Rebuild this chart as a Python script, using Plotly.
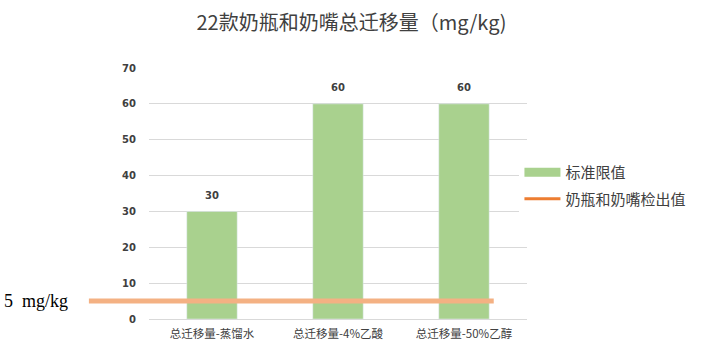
import plotly.graph_objects as go

categories = ["总迁移量-蒸馏水", "总迁移量-4%乙酸", "总迁移量-50%乙醇"]
limit_values = [30, 60, 60]
detected_value = 5
series_names = ["标准限值", "奶瓶和奶嘴检出值"]
y_ticks = [0, 10, 20, 30, 40, 50, 60, 70]

green = "#A9D18E"
orange = "#ED7D31"
orange_light = "#F4B183"

fig = go.Figure()
fig.add_trace(go.Bar(x=categories, y=limit_values, marker_color=green, showlegend=False))
for c, v in zip(categories, limit_values):
    fig.add_annotation(x=c, y=v, text=str(v), showarrow=False, yshift=16,
                       yanchor="middle",
                       font=dict(family="DejaVu Sans", size=10, color="#404040", weight="bold"))
# legend-only entries
fig.add_trace(go.Scatter(x=[None], y=[None], mode="lines", name=series_names[0],
                         line=dict(color=green, width=9), legendgroup="a"))
fig.add_trace(go.Scatter(x=[None], y=[None], mode="lines", name=series_names[1],
                         line=dict(color=orange, width=3), legendgroup="b"))

fig.add_shape(type="line", xref="paper", yref="y", x0=-0.159, x1=0.912,
              y0=detected_value, y1=detected_value,
              line=dict(color=orange_light, width=5), layer="above")
fig.add_annotation(text=f"{detected_value}\u00a0\u00a0mg/kg", xref="paper", yref="y",
                   x=-0.388, y=detected_value, xanchor="left", yanchor="middle",
                   showarrow=False,
                   font=dict(family="Liberation Serif", size=18, color="#000000"))

fig.update_layout(
    width=703, height=352,
    margin=dict(l=149, r=172, t=68, b=33),
    plot_bgcolor="white", paper_bgcolor="white",
    bargap=0.6,
    title=dict(text="22款奶瓶和奶嘴总迁移量（mg/kg)", x=0.5, xref="container",
               xanchor="center", y=0.935, yanchor="middle",
               font=dict(family="Noto Sans CJK SC", size=20, color="#404040")),
    xaxis=dict(showline=False, tickfont=dict(family="Noto Sans CJK SC", size=11.5, color="#404040"),
               ticks="", ticklabelstandoff=6),
    yaxis=dict(range=[0, 70], tickvals=y_ticks, showgrid=True, gridcolor="#D9D9D9",
               zeroline=True, zerolinecolor="#D9D9D9", zerolinewidth=1,
               ticks="", ticklabelstandoff=12,
               tickfont=dict(family="DejaVu Sans", size=10, color="#404040", weight="bold")),
    legend=dict(x=0.98, xanchor="left", y=0.532, yanchor="middle",
                tracegroupgap=4, itemwidth=36,
                font=dict(family="Noto Sans CJK SC", size=15, color="#404040")),
    showlegend=True,
)

fig.write_html("out.html")
